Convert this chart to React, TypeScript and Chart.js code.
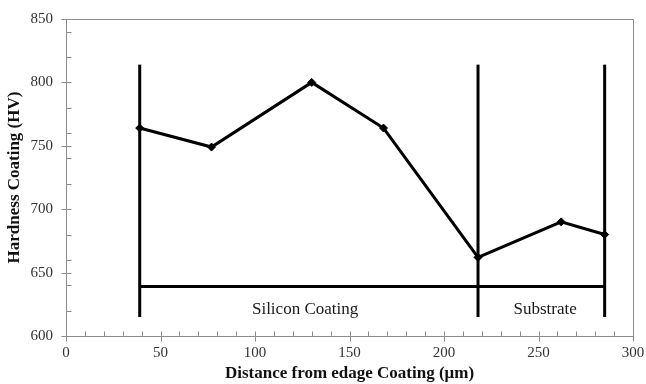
import React, { useEffect, useRef } from "react";
import { Chart, registerables } from "chart.js";

Chart.register(...registerables);

// Hardness profile measured across the coating into the substrate
const distance = [39, 77, 130, 168, 218, 262, 285];
const hardness = [764, 749, 800, 764, 662, 690, 680];

// Region boundaries and the span bar beneath them
const boundaryX = [39, 218, 285];
const boundaryTop = 814;
const boundaryBottom = 615;
const spanY = 639;

// Region captions
const regionLabels = ["Silicon Coating", "Substrate"];
const regionLabelX = [126.5, 253.5];
const regionLabelY = 621;

// Axis ranges and tick spacing
const xRange = [0, 300];
const yRange = [600, 850];
const xMajor = 50;
const xMinor = 10;
const yMajor = 50;
const yMinor = 20;

const SERIF = "'Liberation Serif', 'Times New Roman', serif";
const AXIS_GREY = "#8c8c8c";

const framePlugin = {
  id: "frame",
  afterDatasetsDraw(chart: any) {
    const { ctx, chartArea, scales } = chart;
    const xs = scales.x;
    const ys = scales.y;
    ctx.save();

    // top and right edges of the plot frame
    ctx.strokeStyle = AXIS_GREY;
    ctx.lineWidth = 1;
    ctx.beginPath();
    ctx.moveTo(Math.round(chartArea.left) + 0.5, Math.round(chartArea.top) + 0.5);
    ctx.lineTo(Math.round(chartArea.right) + 0.5, Math.round(chartArea.top) + 0.5);
    ctx.lineTo(Math.round(chartArea.right) + 0.5, Math.round(chartArea.bottom) + 0.5);
    ctx.stroke();

    // x-axis tick marks: minor inside, major crossing
    const axisY = Math.round(chartArea.bottom) + 0.5;
    ctx.beginPath();
    for (let v = xRange[0]; v <= xRange[1]; v += xMinor) {
      const px = Math.round(xs.getPixelForValue(v)) + 0.5;
      if (v % xMajor === 0) {
        ctx.moveTo(px, axisY - 5);
        ctx.lineTo(px, axisY + 5);
      } else {
        ctx.moveTo(px, axisY - 5);
        ctx.lineTo(px, axisY);
      }
    }
    // y-axis tick marks
    const axisX = Math.round(chartArea.left) + 0.5;
    for (let v = yRange[0]; v <= yRange[1]; v += 10) {
      const py = Math.round(ys.getPixelForValue(v)) + 0.5;
      if (v % yMajor === 0) {
        ctx.moveTo(axisX - 5, py);
        ctx.lineTo(axisX + 5, py);
      } else if ((v - yRange[0]) % yMinor === 0) {
        ctx.moveTo(axisX, py);
        ctx.lineTo(axisX + 5, py);
      }
    }
    ctx.stroke();

    // region captions
    ctx.fillStyle = "#1a1a1a";
    ctx.font = `17px ${SERIF}`;
    ctx.textAlign = "center";
    ctx.textBaseline = "middle";
    regionLabels.forEach((t, i) => {
      ctx.fillText(t, xs.getPixelForValue(regionLabelX[i]), ys.getPixelForValue(regionLabelY));
    });
    ctx.restore();
  },
};

export default function App() {
  const ref = useRef<HTMLCanvasElement | null>(null);

  useEffect(() => {
    if (!ref.current) return;
    const black = "#000000";
    const lineDs = (data: { x: number; y: number }[]) => ({
      data,
      borderColor: black,
      borderWidth: 3,
      pointRadius: 0,
      pointHoverRadius: 0,
      fill: false,
      tension: 0,
    });

    const datasets: any[] = [
      {
        label: "Hardness",
        data: distance.map((x, i) => ({ x, y: hardness[i] })),
        borderColor: black,
        backgroundColor: black,
        borderWidth: 3,
        pointStyle: "rectRot",
        pointRadius: 4,
        pointBorderWidth: 1,
        fill: false,
        tension: 0,
      },
      ...boundaryX.map((x) =>
        lineDs([
          { x, y: boundaryBottom },
          { x, y: boundaryTop },
        ])
      ),
      lineDs([
        { x: boundaryX[0], y: spanY },
        { x: boundaryX[boundaryX.length - 1], y: spanY },
      ]),
    ];

    const chart = new Chart(ref.current, {
      type: "line",
      data: { datasets },
      plugins: [framePlugin],
      options: {
        animation: false,
        responsive: false,
        maintainAspectRatio: false,
        layout: { padding: { top: 19, right: 13, left: 0, bottom: 0 } },
        plugins: {
          legend: { display: false },
          tooltip: { enabled: false },
        },
        scales: {
          x: {
            type: "linear",
            min: xRange[0],
            max: xRange[1],
            afterFit: (s: any) => {
              s.height = 48;
              s.paddingLeft = 0;
              s.paddingRight = 0;
            },
            grid: { display: false, drawTicks: false },
            border: { display: true, color: AXIS_GREY, width: 1 },
            ticks: {
              stepSize: xMajor,
              padding: 8,
              color: "#333",
              font: { family: SERIF, size: 15 },
              maxRotation: 0,
            },
            title: {
              display: true,
              text: "Distance from edage Coating (μm)",
              color: "#111",
              font: { family: SERIF, size: 17, weight: "bold" },
              padding: { top: 0, bottom: 0 },
            },
          },
          y: {
            type: "linear",
            min: yRange[0],
            max: yRange[1],
            afterFit: (s: any) => {
              s.width = 66;
              s.paddingTop = 0;
              s.paddingBottom = 0;
            },
            grid: { display: false, drawTicks: false },
            border: { display: true, color: AXIS_GREY, width: 1 },
            ticks: {
              stepSize: yMajor,
              padding: 13,
              color: "#333",
              font: { family: SERIF, size: 15 },
            },
            title: {
              display: true,
              text: "Hardness Coating (HV)",
              color: "#111",
              font: { family: SERIF, size: 17, weight: "bold" },
              padding: { top: 4, bottom: 0 },
            },
          },
        },
      } as any,
    });
    return () => chart.destroy();
  }, []);

  return (
    <div style={{ position: "absolute", left: 0, top: 0, width: 646, height: 384, background: "#fff" }}>
      <canvas ref={ref} width={646} height={384} style={{ display: "block" }} />
    </div>
  );
}
